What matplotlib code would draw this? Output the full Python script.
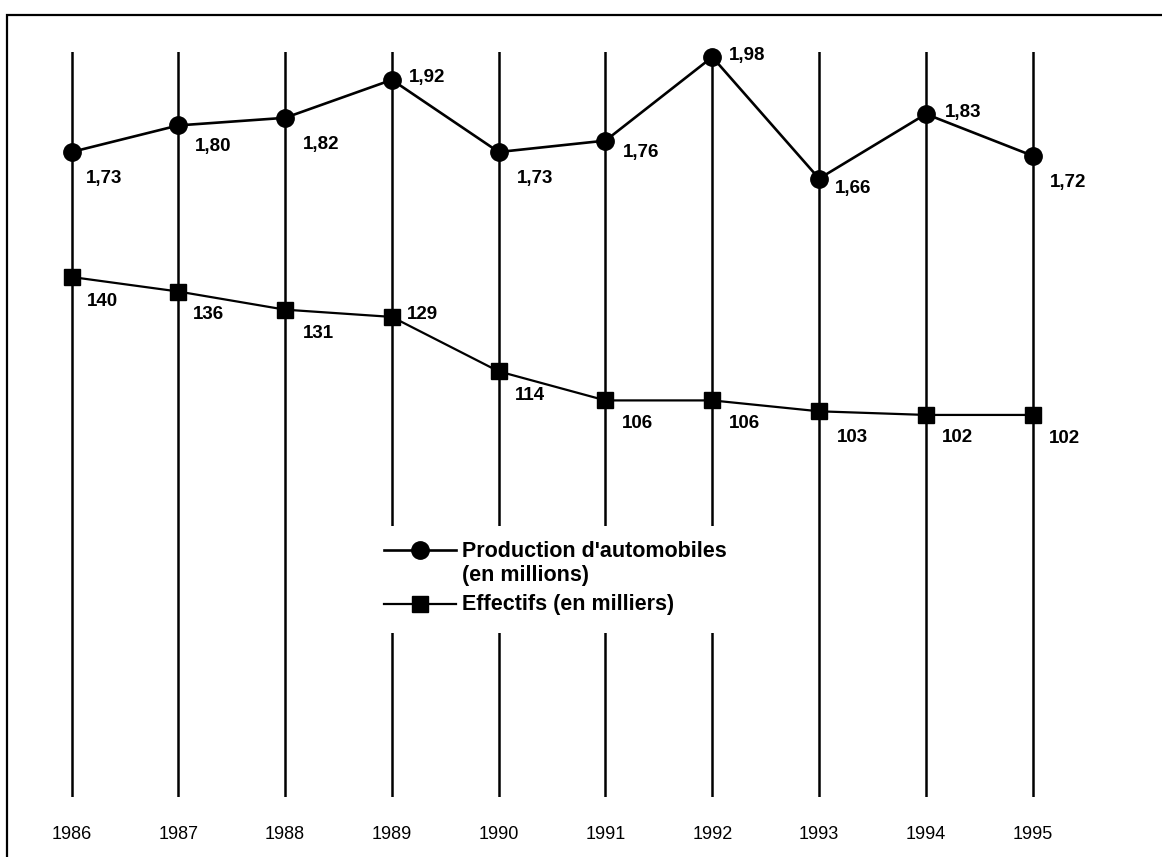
#!/usr/bin/env python3
import matplotlib
matplotlib.use('Agg')
import matplotlib.pyplot as plt
from matplotlib.patches import Rectangle

years = [1986, 1987, 1988, 1989, 1990, 1991, 1992, 1993, 1994, 1995]
production = [1.73, 1.80, 1.82, 1.92, 1.73, 1.76, 1.98, 1.66, 1.83, 1.72]  # millions
effectifs = [140, 136, 131, 129, 114, 106, 106, 103, 102, 102]  # milliers

prod_label = "Production d'automobiles\n(en millions)"
eff_label = "Effectifs (en milliers)"

# label offsets in pixels from each marker (x right, y up)
prod_offsets = [(33, -26), (35, -21), (36, -27), (35, 2), (36, -26),
                (36, -12), (35, 2), (34, -10), (37, 2), (35, -27)]
eff_offsets = [(31, -25), (30, -23), (33, -24), (31, 2), (31, -24),
               (32, -23), (32, -23), (33, -26), (32, -23), (32, -24)]

W, H = 1162, 857


def main():
  fig = plt.figure(figsize=(W / 100, H / 100), dpi=100)
  fig.patch.set_facecolor('white')

  # axes from the top of the year lines (52px) to their bottom (797px)
  ax = fig.add_axes([0, 1 - 797 / H, 1, (797 - 52) / H])
  ax2 = ax.twinx()

  ax.set_xlim(1985.3305, 1996.2107)
  ax.set_ylim(0.0326, 1.9932)
  ax2.set_ylim(-3.25, 201.98)

  for a in (ax, ax2):
    for s in a.spines.values():
      s.set_visible(False)
    a.set_yticks([])
  ax.patch.set_alpha(0)

  # vertical year lines
  for y in years:
    ax.axvline(y, color='black', lw=1.8, zorder=1)

  l1, = ax.plot(years, production, color='black', lw=1.9, marker='o',
                markersize=12.5, zorder=3, clip_on=False, label=prod_label)
  l2, = ax2.plot(years, effectifs, color='black', lw=1.6, marker='s',
                 markersize=12, zorder=3, clip_on=False, label=eff_label)

  lab_font = dict(family='Liberation Sans', fontsize=13.5, fontweight='bold')
  for x, v, off in zip(years, production, prod_offsets):
    ax.annotate(f'{v:.2f}'.replace('.', ','), (x, v), xytext=off,
                textcoords='offset pixels', ha='center', va='center', **lab_font)
  for x, v, off in zip(years, effectifs, eff_offsets):
    ax2.annotate(f'{v}', (x, v), xytext=off,
                 textcoords='offset pixels', ha='center', va='center', **lab_font)

  ax.set_xticks(years)
  ax.set_xticklabels([str(y) for y in years], family='Liberation Sans',
                     fontsize=13)
  ax.tick_params(axis='x', length=0, pad=21)

  leg = fig.legend(handles=[l1, l2], loc='upper left',
                   bbox_to_anchor=(369 / W, 1 - 526 / H),
                   bbox_transform=fig.transFigure, borderaxespad=0,
                   frameon=True, facecolor='white', edgecolor='none',
                   framealpha=1, fancybox=False, borderpad=0.68,
                   handlelength=3.34, handletextpad=0.28, handleheight=1.3,
                   labelspacing=0.4,
                   prop=dict(family='Liberation Sans', size=15.5, weight='bold'))
  # put the marker on the first line of the two-line label
  for col in leg._legend_handle_box.get_children():
    for item in col.get_children():
      item.align = 'top'

  # outer frame (cut by the right and bottom edges)
  fig.add_artist(Rectangle((7 / W, -0.2), 1.5, 1.2 - 15 / H, fill=False,
                           lw=1.6, edgecolor='black',
                           transform=fig.transFigure, clip_on=False))

  fig.savefig('out.png', dpi=100)


if __name__ == "__main__":
  main()
